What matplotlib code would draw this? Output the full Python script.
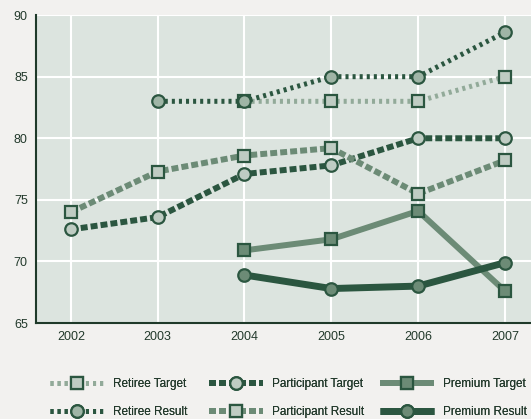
import matplotlib
matplotlib.use("Agg")
import matplotlib.pyplot as plt
from matplotlib import font_manager

years = [2002, 2003, 2004, 2005, 2006, 2007]

retiree_target = [None, None, 83.0, 83.0, 83.0, 85.0]
retiree_result = [None, 83.0, 83.0, 85.0, 85.0, 88.6]
participant_target = [72.6, 73.6, 77.1, 77.8, 80.0, 80.0]
participant_result = [74.0, 77.3, 78.6, 79.2, 75.5, 78.2]
premium_target = [None, None, 70.9, 71.8, 74.1, 67.6]
premium_result = [None, None, 68.9, 67.8, 68.0, 69.9]

dark = "#2b5640"
mid = "#6c8b76"
light = "#92aa99"
pale = "#bfccc3"
text_color = "#22392b"

names = {f.name for f in font_manager.fontManager.ttflist}
family = "Liberation Sans Narrow" if "Liberation Sans Narrow" in names else "Liberation Sans"
plt.rcParams["font.family"] = [family, "DejaVu Sans"]
plt.rcParams["lines.scale_dashes"] = False

fig = plt.figure(figsize=(5.31, 4.19), dpi=100, facecolor="#f2f1ef")
ax = fig.add_axes([0.068, 0.229, 0.932, 0.735])
ax.set_facecolor("#dce4df")


def pts(vals):
    xs = [y for y, v in zip(years, vals) if v is not None]
    ys = [v for v in vals if v is not None]
    return xs, ys


series = [
    ("Retiree Target", retiree_target, light, 3.6, (2.2, 2.9), "s", pale, 8),
    ("Retiree Result", retiree_result, dark, 3.6, (2.2, 2.9), "o", "#9fb5a6", 9),
    ("Participant Target", participant_target, dark, 4.3, (5.0, 2.2), "o", pale, 9),
    ("Participant Result", participant_result, mid, 4.3, (5.0, 2.2), "s", pale, 8),
    ("Premium Target", premium_target, mid, 4.3, None, "s", mid, 8),
    ("Premium Result", premium_result, dark, 5.0, None, "o", mid, 9),
]

handles = []
for label, vals, color, lw, dashes, marker, fill, ms in series:
    xs, ys = pts(vals)
    line, = ax.plot(xs, ys, color=color, lw=lw, marker=marker, ms=ms,
                    mfc=fill, mec=dark, mew=1.6, label=label,
                    solid_capstyle="butt", dash_capstyle="butt")
    if dashes:
        line.set_dashes(dashes)
    handles.append(line)

ax.set_xlim(2001.6, 2007.3)
ax.set_ylim(65, 90)
ax.set_xticks(years)
ax.set_yticks([65, 70, 75, 80, 85, 90])
ax.grid(color="white", lw=1.5)
ax.set_axisbelow(True)
ax.tick_params(length=0, labelsize=9, colors=text_color, pad=6)
for s in ["top", "right"]:
    ax.spines[s].set_visible(False)
for s in ["left", "bottom"]:
    ax.spines[s].set_color("#1f3a2a")
    ax.spines[s].set_linewidth(1.5)

# one legend per column: retiree, participant, premium
for i, x0 in enumerate([50, 209, 380]):
    leg = fig.legend(handles=handles[2 * i:2 * i + 2], loc="upper left",
                     bbox_to_anchor=(x0 / 531, 0.098), frameon=False,
                     fontsize=8.5, handlelength=4.6, handletextpad=0.75,
                     labelspacing=1.35, borderpad=0, borderaxespad=0,
                     labelcolor=text_color)
    fig.add_artist(leg)

fig.savefig("out.png", dpi=100, facecolor=fig.get_facecolor())
